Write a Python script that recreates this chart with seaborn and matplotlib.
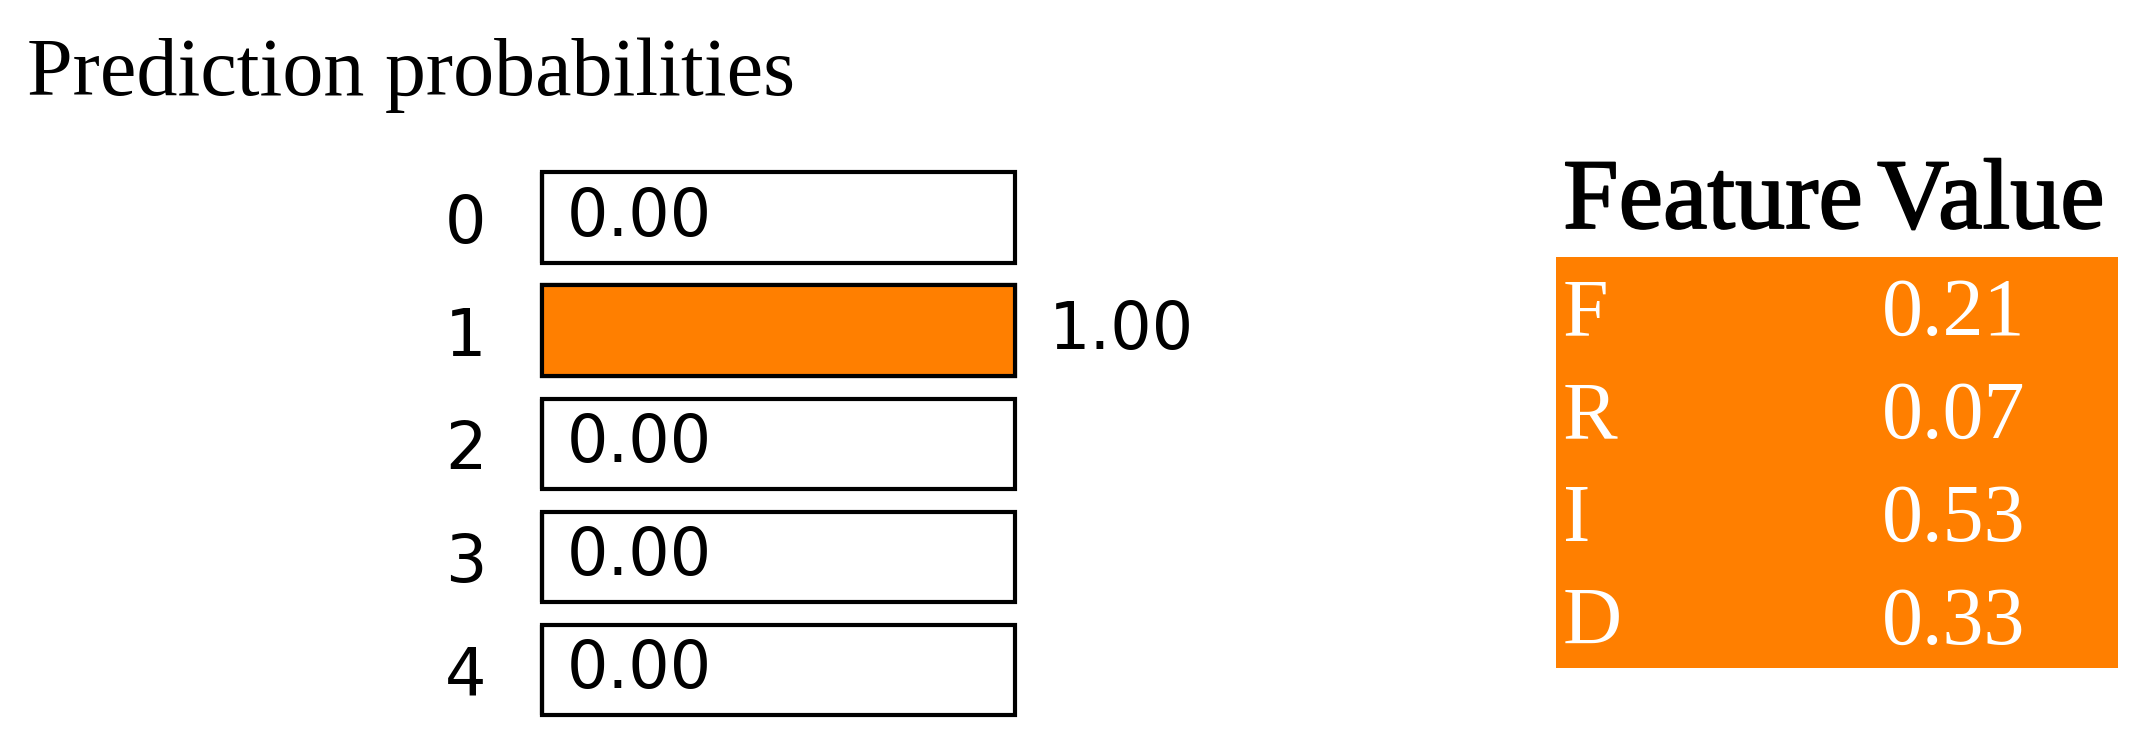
import matplotlib
matplotlib.use("Agg")
import matplotlib.pyplot as plt
import matplotlib.patheffects as pe
import seaborn as sns

# data
classes = ["0", "1", "2", "3", "4"]
probs = [0.00, 1.00, 0.00, 0.00, 0.00]
full_scale = [1.0, 1.0, 1.0, 1.0, 1.0]
features = ["F", "R", "I", "D"]
feature_values = [0.21, 0.07, 0.53, 0.33]

orange = "#ff7f00"
W, H = 2139, 739

sns.set_theme(style="white")
plt.rcParams["font.family"] = ["DejaVu Sans"]

fig = plt.figure(figsize=(W / 100, H / 100), dpi=100)
fig.patch.set_facecolor("white")

# -----------------------------
# prediction probabilities
# -----------------------------
ax = fig.add_axes([542 / W, 1 - 726.5 / H, 473 / W, 565.5 / H])
sns.barplot(x=full_scale, y=classes, orient="h", color="white", saturation=1,
            edgecolor="black", linewidth=3, width=0.8, ax=ax)
sns.barplot(x=probs, y=classes, orient="h", color=orange, saturation=1,
            edgecolor="black", linewidth=3, width=0.8, ax=ax)
for p in ax.patches:
    p.set_clip_on(False)

for i, v in enumerate(probs):
    off = 18 if v < 0.5 else 24
    ax.annotate(f"{v:.2f}", xy=(v, i), xytext=(off, 0), textcoords="offset points",
                va="center", ha="left", fontsize=47, color="black",
                annotation_clip=False)

ax.set_xlim(0, 1)
ax.set_ylim(4.5, -0.5)
ax.set_xlabel("")
ax.set_ylabel("")
ax.set_xticks([])
ax.tick_params(axis="y", length=0, pad=40, labelsize=47, labelcolor="black")
sns.despine(ax=ax, left=True, bottom=True)
ax.set_facecolor("white")

fig.text(27 / W, 1 - 95 / H, "Prediction probabilities", family="Liberation Serif",
         fontsize=59, va="baseline", ha="left", color="black")

# -----------------------------
# feature / value table
# -----------------------------
heavy = [pe.withStroke(linewidth=1.3, foreground="black")]
fig.text(1563 / W, 1 - 228 / H, "Feature", family="Liberation Serif",
         fontsize=72, va="baseline", ha="left", color="black", path_effects=heavy)
fig.text(1877 / W, 1 - 228 / H, "Value", family="Liberation Serif",
         fontsize=72, va="baseline", ha="left", color="black", path_effects=heavy)

ax_t = fig.add_axes([1556 / W, 1 - 668 / H, 562 / W, 411 / H])
ax_t.set_facecolor(orange)
ax_t.set_xlim(0, 1)
ax_t.set_ylim(len(features), 0)
for i, (f, v) in enumerate(zip(features, feature_values)):
    ax_t.text(0.0125, i + 0.76, f, family="Liberation Serif", fontsize=59,
              color="white", va="baseline", ha="left")
    ax_t.text(0.58, i + 0.76, f"{v:.2f}", family="Liberation Serif", fontsize=59,
              color="white", va="baseline", ha="left")
ax_t.set_xticks([])
ax_t.set_yticks([])
for s in ax_t.spines.values():
    s.set_visible(False)

plt.savefig("out.png", dpi=100, facecolor="white")
